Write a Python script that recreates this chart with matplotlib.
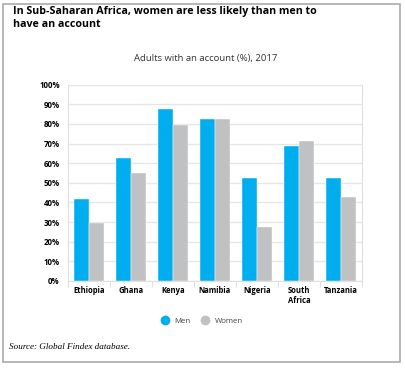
import matplotlib
matplotlib.use("Agg")
import matplotlib.pyplot as plt
from matplotlib.patches import Rectangle
from matplotlib.lines import Line2D
import numpy as np

categories = ["Ethiopia", "Ghana", "Kenya", "Namibia", "Nigeria", "South\nAfrica", "Tanzania"]
men = [41.6, 62.5, 87.5, 82.4, 52.6, 68.8, 52.6]
women = [29.4, 54.9, 79.5, 82.4, 27.4, 71.3, 42.9]
yticks = [0, 10, 20, 30, 40, 50, 60, 70, 80, 90, 100]

blue = "#00AEEF"
gray = "#BFC1C2"

plt.rcParams['font.family'] = ['Open Sans', 'DejaVu Sans']

W, H = 406, 370
fig = plt.figure(figsize=(W/100, H/100), dpi=100)
fig.patch.set_facecolor("white")

# outer frame
fig.add_artist(Rectangle((3/W, 1 - 362/H), (400-3)/W, (362-4)/H, transform=fig.transFigure,
                         fill=False, edgecolor="#AAAAAA", linewidth=1.2))

ax = fig.add_axes([68/W, 1 - 281/H, (362-68)/W, (281-84.7)/H])
x = np.arange(len(categories))
bw = 0.36
ax.bar(x - bw/2, men, width=bw, color=blue, zorder=3, edgecolor="white", linewidth=0.3)
ax.bar(x + bw/2, women, width=bw, color=gray, zorder=3, edgecolor="white", linewidth=0.3)
ax.set_xlim(-0.5, len(categories) - 0.5)
ax.set_ylim(0, 100)
ax.set_yticks(yticks)
ax.set_yticklabels([f"{v}%" for v in yticks], fontsize=5.7, fontweight="bold")
ax.yaxis.grid(True, color="#E6E6E6", linewidth=1.0, zorder=0)
ax.tick_params(axis="y", length=0, pad=6)
ax.set_xticks(x)
ax.set_xticklabels(categories, fontsize=5.5, fontweight="bold", linespacing=1.1)
ax.set_xticks(np.arange(len(categories) + 1) - 0.5, minor=True)
ax.tick_params(axis="x", which="major", length=0, pad=3.5)
ax.tick_params(axis="x", which="minor", length=4, color="#E0E0E0", width=0.8)
ax.spines["top"].set_visible(False)
for s in ["left", "right", "bottom"]:
    ax.spines[s].set_color("#E0E0E0")
    ax.spines[s].set_linewidth(0.8)

fig.text(13/W, 1 - 18/H, "In Sub-Saharan Africa, women are less likely than men to\nhave an account",
         fontsize=7.7, fontweight="bold", va="center", ha="left", linespacing=1.35)
fig.text(206/W, 1 - 59/H, "Adults with an account (%), 2017", fontsize=6.8, ha="center", va="center",
         color="#333333")

handles = [Line2D([], [], marker="o", linestyle="", markersize=6, color=blue, label="Men"),
           Line2D([], [], marker="o", linestyle="", markersize=6, color=gray, label="Women")]
fig.legend(handles=handles, loc="center", bbox_to_anchor=(200/W, 1 - 321/H), ncol=2, frameon=False,
           fontsize=5.7, handletextpad=0.2, columnspacing=0.9, labelcolor="#444444")

fig.text(9/W, 1 - 347/H, "Source: Global Findex database.", fontsize=6.6, style="italic",
         family="Liberation Serif", ha="left", va="center")

fig.savefig("out.png", dpi=100)
